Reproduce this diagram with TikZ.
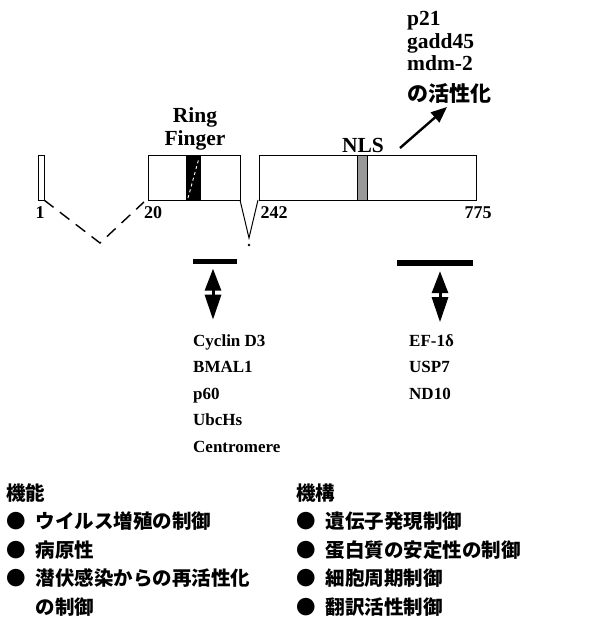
\documentclass[tikz,border=0pt]{standalone}
\usepackage{fontspec}
\setmainfont{Liberation Serif}
\newfontfamily\jpfont{Noto Sans CJK JP}
\usetikzlibrary{arrows.meta,positioning}

\begin{document}
\begin{tikzpicture}[x=1pt, y=-1pt,
  exon/.style={draw, line width=0.9pt, fill=white},
  domlbl/.style={font=\bfseries\fontsize{21.5}{23}\selectfont, inner sep=0pt, align=center},
  poslbl/.style={font=\bfseries\fontsize{18}{18}\selectfont, inner sep=0pt},
  partner/.style={font=\bfseries\fontsize{17}{26.5}\selectfont, inner sep=0pt, align=left},
  jplist/.style={font=\jpfont\bfseries\fontsize{19.5}{28.5}\selectfont, inner sep=0pt, align=left},
  bindbar/.style={fill=black, inner sep=0pt, minimum height=5pt},
  bindarrow/.style={line width=3pt, {Triangle[width=16pt,length=22pt]}-{Triangle[width=16pt,length=25pt]}}
]
  \useasboundingbox (0,0) rectangle (592,624);

  % exons
  \draw[exon] (38,155) rectangle (44,200);
  \draw[exon] (148,155) rectangle (240,200);
  \draw[exon] (259,155) rectangle (476,200);
  % ring finger and NLS
  \fill (186,155) rectangle (201,200);
  \draw[white, line width=0.9pt, dash pattern=on 3pt off 3pt] (188,198) -- (199,158);
  \draw[line width=0.9pt, fill=black!40] (357,155) rectangle (367,200);

  % splicing
  \draw[line width=1.4pt, dash pattern=on 12pt off 8pt] (44,200) -- (100,243) -- (144,202);
  \draw[line width=1pt] (240,200) -- (249,238) -- (258,200);
  \fill (249,245) circle (1.3);

  % labels (base = last line)
  \node[domlbl, anchor=base] (ring) at (195,145) {Ring\\Finger};
  \node[domlbl, anchor=base] (nls) at (363,152) {NLS};
  \node[poslbl, anchor=base] (p1) at (40,218) {1};
  \node[poslbl, anchor=base] (p20) at (153,218) {20};
  \node[poslbl, anchor=base] (p242) at (274,218) {242};
  \node[poslbl, anchor=base] (p775) at (478,218) {775};

  % transactivation targets
  \node[domlbl, anchor=base west, align=left, font=\bfseries\fontsize{21.5}{22.5}\selectfont] (targets) at (407,101)
    {p21\\gadd45\\mdm-2\\[8pt]{\jpfont\bfseries\fontsize{21}{21}\selectfont の活性化}};
  \coordinate (nlsout) at (400,148);
  \coordinate (tgtin) at (447,107);
  \draw[line width=2.4pt, -{Triangle[width=13pt,length=16pt]}] (nlsout) -- (tgtin);

  % binding regions
  \node[bindbar, minimum width=44pt] (ringbar) at (215,261) {};
  \node[bindbar, minimum width=76pt, minimum height=6pt] (cbar) at (435,263) {};
  \node[partner, anchor=base west] (ringpart) at (193,452)
    {Cyclin D3\\BMAL1\\p60\\UbcHs\\Centromere};
  \node[partner, anchor=base west] (cpart) at (409,399)
    {EF-1δ\\USP7\\ND10};
  \draw[bindarrow] ([xshift=-2pt,yshift=-5pt]ringbar.south) -- ([xshift=-2pt,yshift=-56pt]ringbar.south);
  \draw[bindarrow] ([xshift=5pt,yshift=-5pt]cbar.south) -- ([xshift=5pt,yshift=-56pt]cbar.south);

  % functions and mechanisms
  \node[jplist, anchor=base west] (func) at (6,614)
    {機能\\●\hspace{10pt}ウイルス増殖の制御\\●\hspace{10pt}病原性\\●\hspace{10pt}潜伏感染からの再活性化\\\phantom{●}\hspace{10pt}の制御};
  \node[jplist, anchor=base west] (mech) at (296,614)
    {機構\\●\hspace{10pt}遺伝子発現制御\\●\hspace{10pt}蛋白質の安定性の制御\\●\hspace{10pt}細胞周期制御\\●\hspace{10pt}翻訳活性制御};
\end{tikzpicture}
\end{document}
